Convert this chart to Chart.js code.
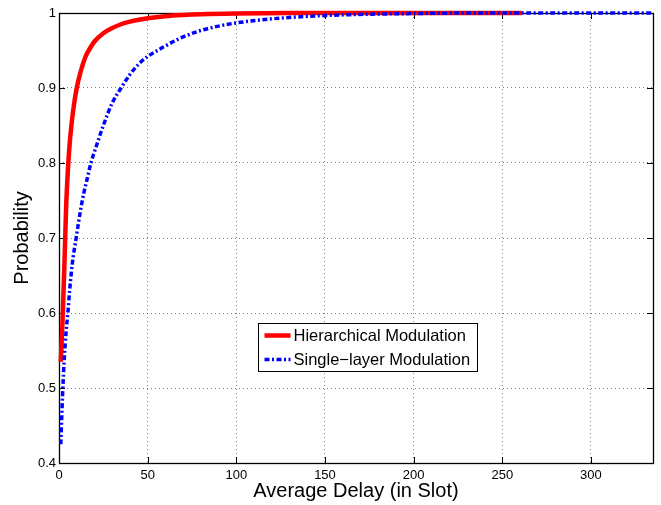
<!DOCTYPE html>
<html><head><meta charset="utf-8">
<script src="https://cdn.jsdelivr.net/npm/chart.js@4/dist/chart.umd.min.js"></script>
<style>html,body{margin:0;padding:0;background:#fff}#wrap{width:661px;height:505px;position:relative}</style>
</head><body><div id="wrap"><canvas id="c" width="661" height="505"></canvas></div>
<script>
// ---- data ----
const seriesNames = ['Hierarchical Modulation', 'Single\u2212layer Modulation'];
const hierDelay = [1, 2, 3, 4, 5, 6, 7, 8, 10, 12, 15, 18, 20, 25, 30, 35, 40, 45, 50, 60, 70, 80, 100, 130, 180, 261];
const hierProb  = [0.535, 0.59, 0.66, 0.74, 0.79, 0.825, 0.85, 0.87, 0.90, 0.92, 0.942, 0.955, 0.962, 0.973, 0.980, 0.985, 0.9885, 0.991, 0.993, 0.9957, 0.9973, 0.9984, 0.9994, 0.9999, 1, 1];
const singleDelay = [1, 2, 3, 4, 5, 6, 7, 8, 9, 10, 12, 14, 16, 18, 20, 25, 30, 35, 40, 45, 50, 57, 60, 68, 79, 90, 100, 120, 150, 200, 250, 335];
const singleProb  = [0.425, 0.49, 0.54, 0.575, 0.60, 0.63, 0.655, 0.675, 0.69, 0.705, 0.735, 0.76, 0.78, 0.80, 0.815, 0.85, 0.88, 0.90, 0.918, 0.932, 0.942, 0.952, 0.956, 0.966, 0.976, 0.9825, 0.9868, 0.9922, 0.9966, 0.9993, 1, 1];
const xTickValues = [0, 50, 100, 150, 200, 250, 300];
const yTickValues = [0.4, 0.5, 0.6, 0.7, 0.8, 0.9, 1];
const yTickLabels = ['0.4', '0.5', '0.6', '0.7', '0.8', '0.9', '1'];
const xRange = [0, 335];
const yRange = [0.4, 1];
const xTitle = 'Average Delay (in Slot)';
const yTitle = 'Probability';

const FONT = '"Liberation Sans", Arial, Helvetica, sans-serif';
const RED = '#ff0000', BLUE = '#0000ff';
const BLUE_DASH = [5, 2.5, 2, 2.5];

const framePlugin = {
  id: 'frame',
  beforeDatasetsDraw(chart) {
    const {ctx, chartArea: a, scales} = chart;
    ctx.save();
    ctx.strokeStyle = '#000';
    ctx.lineWidth = 1;
    ctx.beginPath();
    const tl = 6;
    xTickValues.forEach(v => {
      const px = Math.round(scales.x.getPixelForValue(v)) + 0.5;
      ctx.moveTo(px, a.bottom); ctx.lineTo(px, a.bottom - tl);
      ctx.moveTo(px, a.top); ctx.lineTo(px, a.top + tl);
    });
    yTickValues.forEach(v => {
      const py = Math.round(scales.y.getPixelForValue(v)) + 0.5;
      ctx.moveTo(a.left, py); ctx.lineTo(a.left + tl, py);
      ctx.moveTo(a.right, py); ctx.lineTo(a.right - tl, py);
    });
    ctx.stroke();
    ctx.lineWidth = 1.3;
    ctx.strokeRect(Math.round(a.left) + 0.5, Math.round(a.top) + 0.5, Math.round(a.right - a.left), Math.round(a.bottom - a.top));
    ctx.restore();
  },
  afterDatasetsDraw(chart) {
    const {ctx, chartArea: a} = chart;
    const bx = a.left + 199.5, by = a.top + 310.5, bw = 219, bh = 48;
    ctx.save();
    ctx.fillStyle = '#fff';
    ctx.fillRect(bx, by, bw, bh);
    ctx.strokeStyle = '#000';
    ctx.lineWidth = 1;
    ctx.strokeRect(bx, by, bw, bh);
    const rows = [
      {name: seriesNames[0], color: RED, width: 4.5, dash: []},
      {name: seriesNames[1], color: BLUE, width: 3.5, dash: BLUE_DASH}
    ];
    rows.forEach((r, i) => {
      const y = by + 12 + i * 24;
      ctx.beginPath();
      ctx.strokeStyle = r.color;
      ctx.lineWidth = r.width;
      ctx.setLineDash(r.dash);
      ctx.moveTo(bx + 6, y); ctx.lineTo(bx + 32, y);
      ctx.stroke();
      ctx.setLineDash([]);
      ctx.fillStyle = '#000';
      ctx.font = '16.5px ' + FONT;
      ctx.textBaseline = 'middle';
      ctx.textAlign = 'left';
      ctx.fillText(r.name, bx + 35, y + 0.5);
    });
    ctx.restore();
  }
};

const toPts = (xs, ys) => xs.map((x, i) => ({x, y: ys[i]}));

new Chart(document.getElementById('c'), {
  type: 'line',
  data: {
    datasets: [
      {label: seriesNames[0], data: toPts(hierDelay, hierProb), borderColor: RED, backgroundColor: RED,
       borderWidth: 4.5, pointRadius: 0, cubicInterpolationMode: 'monotone', fill: false, clip: false, order: 2},
      {label: seriesNames[1], data: toPts(singleDelay, singleProb), borderColor: BLUE, backgroundColor: BLUE,
       borderWidth: 3.5, borderDash: BLUE_DASH, pointRadius: 0, cubicInterpolationMode: 'monotone', fill: false, clip: false, order: 1}
    ]
  },
  options: {
    responsive: false, animation: false, devicePixelRatio: 1,
    layout: {padding: {top: 13, right: 8, left: 0, bottom: 0}},
    plugins: {legend: {display: false}, tooltip: {enabled: false}},
    scales: {
      x: {
        type: 'linear', min: xRange[0], max: xRange[1],
        afterBuildTicks: s => { s.ticks = xTickValues.map(v => ({value: v})); },
        afterFit: s => { s.height = 42; },
        grid: {color: 'rgba(0,0,0,0.5)', lineWidth: 1, drawTicks: false},
        border: {display: false, dash: [1, 3]},
        ticks: {color: '#000', font: {family: FONT, size: 13}, padding: 5, maxRotation: 0, callback: v => String(v)},
        title: {display: true, text: xTitle, color: '#000', font: {family: FONT, size: 20, lineHeight: 1}, padding: {top: 0, bottom: 3.5}}
      },
      y: {
        type: 'linear', min: yRange[0], max: yRange[1],
        afterBuildTicks: s => { s.ticks = yTickValues.map(v => ({value: v})); },
        afterFit: s => { s.width = 59; },
        grid: {color: 'rgba(0,0,0,0.5)', lineWidth: 1, drawTicks: false},
        border: {display: false, dash: [1, 3]},
        ticks: {color: '#000', font: {family: FONT, size: 13}, padding: 3,
          callback: (v) => { const i = yTickValues.findIndex(t => Math.abs(t - v) < 1e-9); return i >= 0 ? yTickLabels[i] : ''; }},
        title: {display: true, text: yTitle, color: '#000', font: {family: FONT, size: 20, lineHeight: 1}, padding: {top: 12.5, bottom: 0}}
      }
    }
  },
  plugins: [framePlugin]
});
</script></body></html>
